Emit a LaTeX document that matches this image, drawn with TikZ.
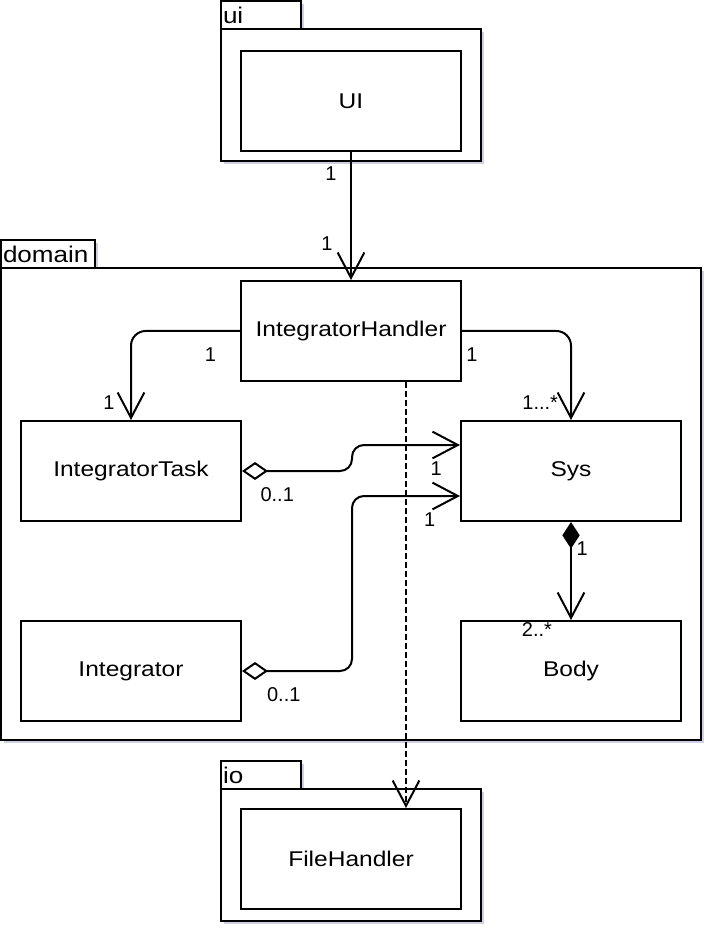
\documentclass[tikz,border=0pt]{standalone}
\usepackage{fontspec}
\setmainfont{Liberation Sans}[FakeStretch=1.15]
\newfontfamily\lblfont{Liberation Sans}
\usetikzlibrary{arrows.meta,shadows}

\begin{document}
\begin{tikzpicture}[x=0.75pt, y=-0.75pt, line width=1.5pt,
    cls/.style={draw, fill=white, minimum width=165pt, minimum height=75pt, inner sep=0pt,
      font=\fontsize{16pt}{19pt}\selectfont},
    pkgshadow/.style={drop shadow={shadow xshift=2.5pt, shadow yshift=-2.5pt, opacity=0.3, fill=blue!25!gray}},
    pkgtab/.style={draw, fill=white, pkgshadow, inner xsep=1.5pt, inner ysep=0pt, minimum height=21pt,
      align=left, font=\fontsize{17pt}{20pt}\selectfont},
    pkgbody/.style={draw, fill=white, pkgshadow, inner sep=0pt},
    lbl/.style={inner sep=1pt, font=\lblfont\fontsize{15pt}{17pt}\selectfont},
    assoc/.style={-{Straight Barb[length=19pt, width=20pt]}},
    aggr/.style={{Diamond[open, length=19.5pt, width=13.5pt]}-{Straight Barb[length=19pt, width=20pt]}, rounded corners=9pt},
    comp/.style={{Diamond[length=20pt, width=13pt]}-{Straight Barb[length=19pt, width=20pt]}},
    dep/.style={dash pattern=on 4.5pt off 2.25pt, -{Straight Barb[length=19pt, width=20pt]}}]
    \useasboundingbox (0,0) rectangle (724,944);

    % packages
    \node[pkgtab, text width=57pt] (uitab) at (261,15) {ui};
    \node[pkgbody, minimum width=195pt, minimum height=99pt] (uipkg) at (351,95) {};
    \node[pkgtab, text width=67.5pt] (domaintab) at (48,254) {domain};
    \node[pkgbody, minimum width=525pt, minimum height=354pt] (domainpkg) at (351,504) {};
    \node[pkgtab, text width=57pt] (iotab) at (261,775) {io};
    \node[pkgbody, minimum width=195pt, minimum height=99pt] (iopkg) at (351,855) {};

    % classes
    \node[cls] (ui)      at (351,101) {UI};
    \node[cls] (handler) at (351,331) {IntegratorHandler};
    \node[cls] (task)    at (131,471) {IntegratorTask};
    \node[cls] (sys)     at (571,471) {Sys};
    \node[cls] (integ)   at (131,671) {Integrator};
    \node[cls] (body)    at (571,671) {Body};
    \node[cls] (files)   at (351,859) {FileHandler};

    \draw[assoc] (ui) -- node[lbl, pos=0.17, left=9.1pt] (m1) {1}
        node[lbl, pos=0.715, left=12.1pt] (m2) {1} (handler);
    \draw[assoc, rounded corners=11pt] (handler.west) -| node[lbl, pos=0.136, below=10.85pt] (m3) {1}
        node[lbl, pos=0.905, left=10.6pt] (m4) {1} (task.north);
    \draw[assoc, rounded corners=11pt] (handler.east) -| node[lbl, pos=0.045, below=10.85pt] (m5) {1}
        node[lbl, pos=0.905, left=8pt] (m6) {1...*} (sys.north);
    \draw[aggr] (task.east) -- node[lbl, pos=0.32, below=10.85pt] (m7) {0..1} ++(110,0)
        |- node[lbl, pos=0.89, below=10.85pt] (m8) {1} ([yshift=19.5pt]sys.west);
    \draw[aggr] (integ.east) -- node[lbl, pos=0.38, below=10.4pt] (m9) {0..1} ++(110,0)
        |- node[lbl, pos=0.86, below=10.85pt] (m10) {1} ([yshift=-18.75pt]sys.west);
    \draw[comp] (sys) -- node[lbl, pos=0.27, right=2.4pt] (m11) {1}
        node[lbl, pos=1.1, left=12.5pt] (m12) {2..*} (body);
    \draw[dep] ([xshift=41.25pt]handler.south) -- ([xshift=41.25pt]files.north);
\end{tikzpicture}
\end{document}
